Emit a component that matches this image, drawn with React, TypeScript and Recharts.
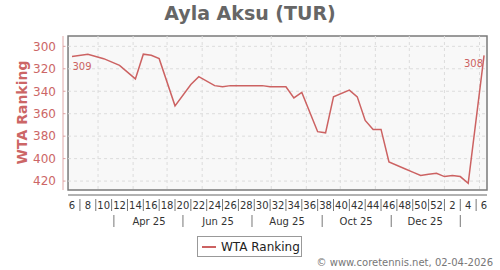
import React from "react";
import { LineChart, Line, XAxis, YAxis, ReferenceArea, ReferenceLine } from "recharts";

// week numbers shown under the x axis (every second week)
const weekTickLabels = [6, 8, 10, 12, 14, 16, 18, 20, 22, 24, 26, 28, 30, 32, 34, 36, 38, 40, 42, 44, 46, 48, 50, 52, 2, 4, 6];

// weekly WTA ranking, first point = week 6 of 2025 (null = no point, line goes straight on)
const ranks = [
  309, null, 307, null, 311, null, 317, null, 329, 307,
  308, 311, null, 353, null, 334, 327, null, 335, 336,
  335, null, null, null, 335, 336, null, 336, 346, 341,
  null, 376, 377, 345, null, 339, 345, 366, 374, 374,
  403, null, 409, 412, 415, 414, 413, 416, 415, 416,
  422, null, 308,
];

const firstDate = "2025-02-06";
const monthLines = ["2025-03-01", "2025-04-01", "2025-05-01", "2025-06-01", "2025-07-01", "2025-08-01", "2025-09-01", "2025-10-01", "2025-11-01", "2025-12-01", "2026-01-01", "2026-02-01"];
const monthBandLabels = ["Apr 25", "Jun 25", "Aug 25", "Oct 25", "Dec 25"];
const monthBandCenters = ["2025-04-15", "2025-06-15", "2025-08-15", "2025-10-15", "2025-12-15"];
const monthBandSeps = ["2025-03-15", "2025-05-15", "2025-07-15", "2025-09-15", "2025-11-15", "2026-01-15"];
const yTicks = [300, 320, 340, 360, 380, 400, 420];

const dayOf = (iso: string) => (Date.parse(iso) - Date.parse(firstDate)) / 86400000;

const data = ranks.map((r, k) => ({ day: k * 7, rank: r }));

const LINE = "#cc6262";
const TXT = "#cc6666";
const xDomain: [number, number] = [-7.95, 366.6];
const frameX: [number, number] = [-3.5, 366.6];
const yDomain: [number, number] = [290.8, 432.4];
const frameY: [number, number] = [290.8, 428];

const bandCenterDays = monthBandCenters.map(dayOf);
const bandSepDays = monthBandSeps.map(dayOf);

const YTick = ({ x, y, payload }: any) => (
  <g>
    <line x1={x} x2={x + 2.5} y1={y} y2={y} stroke="#dca0a0" />
    <text x={x - 7} y={y} dy={4.3} textAnchor="end" fill={TXT} fontSize={12}>
      {payload.value}
    </text>
  </g>
);

const WeekTick = ({ x, y, payload }: any) => {
  const k = Math.round(payload.value / 7);
  if (k % 2 === 0) {
    return (
      <text x={x} y={y + 13.5} textAnchor="middle" fill="#333" fontSize={10}>
        {weekTickLabels[k / 2]}
      </text>
    );
  }
  return <line x1={x} x2={x} y1={y + 4} y2={y + 16} stroke="#777" />;
};

const MonthTick = ({ x, y, payload }: any) => {
  const i = bandCenterDays.indexOf(payload.value);
  if (i >= 0) {
    return (
      <text x={x} y={y + 11.5} textAnchor="middle" fill="#333" fontSize={10}>
        {monthBandLabels[i]}
      </text>
    );
  }
  return <line x1={x} x2={x} y1={y + 2} y2={y + 14} stroke="#777" />;
};

const endLabel = (props: any) => {
  const { x, y, index, value } = props;
  if (index === 0)
    return (
      <text x={x + 0.5} y={y + 13.3} fill={LINE} fontSize={10}>
        {value}
      </text>
    );
  if (index === ranks.length - 1)
    return (
      <text x={x - 1} y={y + 12} textAnchor="end" fill={LINE} fontSize={10}>
        {value}
      </text>
    );
  return null;
};

export default function App() {
  return (
    <div style={{ position: "absolute", left: 0, top: 0, width: 500, height: 270, fontFamily: "DejaVu Sans", background: "#fff" }}>
      <div style={{ position: "absolute", left: 0, top: 2, width: 500, textAlign: "center", fontSize: 19, lineHeight: "23px", fontWeight: "bold", color: "#666" }}>
        Ayla Aksu (TUR)
      </div>
      <LineChart width={500} height={270} data={data} margin={{ top: 36, right: 13, left: 0, bottom: 40 }} style={{ fontFamily: "DejaVu Sans" }}>
        <ReferenceArea x1={frameX[0]} x2={frameX[1]} y1={frameY[0]} y2={frameY[1]} fill="#f8f8f8" fillOpacity={1} stroke="none" ifOverflow="visible" />
        {yTicks.map((v) => (
          <ReferenceLine key={"h" + v} segment={[{ x: frameX[0], y: v }, { x: frameX[1], y: v }]} stroke="#dcdcdc" strokeDasharray="3 3" ifOverflow="visible" />
        ))}
        {monthLines.map((m) => (
          <ReferenceLine key={"v" + m} segment={[{ x: dayOf(m), y: frameY[0] }, { x: dayOf(m), y: frameY[1] }]} stroke="#dcdcdc" strokeDasharray="3 3" ifOverflow="visible" />
        ))}
        <ReferenceArea x1={frameX[0]} x2={frameX[1]} y1={frameY[0]} y2={frameY[1]} fill="none" stroke="#7a7a7a" strokeWidth={1.5} ifOverflow="visible" />
        <ReferenceLine segment={[{ x: xDomain[0], y: frameY[0] }, { x: xDomain[0], y: frameY[1] }]} stroke="#e0a8a8" ifOverflow="visible" />
        <ReferenceLine segment={[{ x: frameX[0], y: yDomain[1] }, { x: frameX[1], y: yDomain[1] }]} stroke="#999" strokeWidth={1.5} ifOverflow="visible" />
        <XAxis
          dataKey="day"
          type="number"
          domain={xDomain}
          allowDataOverflow
          ticks={ranks.map((_, k) => k * 7)}
          interval={0}
          axisLine={false}
          tickLine={false}
          tickSize={0}
          tickMargin={0}
          height={18}
          tick={<WeekTick />}
        />
        <XAxis
          xAxisId="m"
          dataKey="day"
          type="number"
          domain={xDomain}
          allowDataOverflow
          ticks={[...bandSepDays, ...bandCenterDays].sort((a, b) => a - b)}
          interval={0}
          axisLine={false}
          tickLine={false}
          tickSize={0}
          tickMargin={0}
          height={17}
          tick={<MonthTick />}
        />
        <YAxis
          type="number"
          domain={yDomain}
          reversed
          allowDataOverflow
          ticks={yTicks}
          interval={0}
          width={63}
          axisLine={false}
          tickLine={false}
          tickSize={0}
          tickMargin={0}
          tick={<YTick />}
          label={{
            content: ({ viewBox }: any) => {
              const cx = 27;
              const cy = viewBox.y + viewBox.height / 2 - 3;
              return (
                <text x={cx} y={cy} transform={`rotate(-90, ${cx}, ${cy})`} textAnchor="middle" fill={TXT} fontSize={14} fontWeight="bold">
                  WTA Ranking
                </text>
              );
            },
          }}
        />
        <Line type="linear" dataKey="rank" stroke={LINE} strokeWidth={1.5} dot={false} connectNulls isAnimationActive={false} label={endLabel} />
      </LineChart>
      <div style={{ position: "absolute", left: 197, top: 236, width: 105, height: 21, boxSizing: "border-box", border: "1px solid #999", background: "#fff", display: "flex", alignItems: "center", fontSize: 12, color: "#222" }}>
        <span style={{ display: "inline-block", width: 14, height: 2, background: LINE, marginLeft: 4, marginRight: 5 }} />
        WTA Ranking
      </div>
      <div style={{ position: "absolute", right: 7, top: 257, fontSize: 10, color: "#777", whiteSpace: "nowrap" }}>
        © www.coretennis.net, 02-04-2026
      </div>
    </div>
  );
}
